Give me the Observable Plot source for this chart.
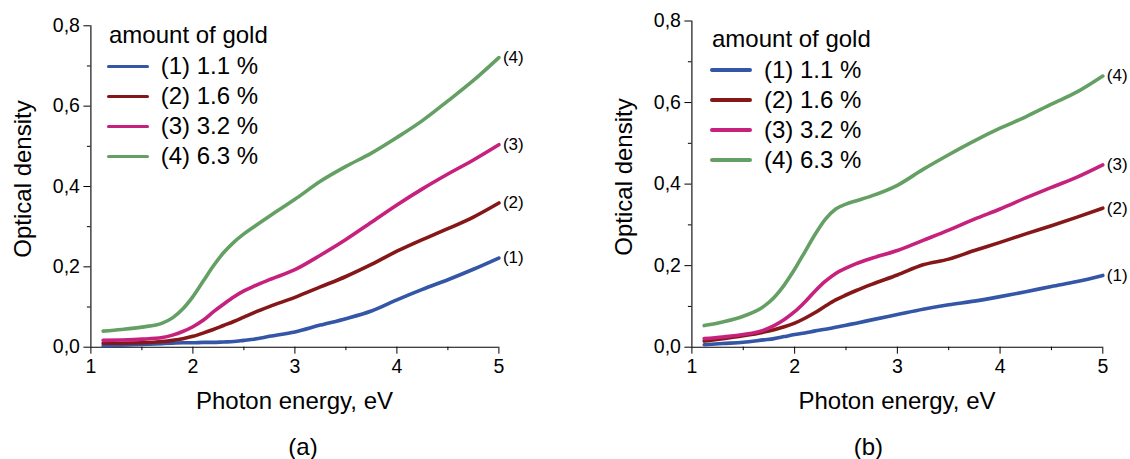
<!DOCTYPE html>
<html><head><meta charset="utf-8">
<script src="https://cdn.jsdelivr.net/npm/d3@7"></script>
<script src="https://cdn.jsdelivr.net/npm/@observablehq/plot@0.6"></script>
<style>
body{margin:0;background:#fff;font-family:"Liberation Sans",Arial,sans-serif;}
#root{position:relative;width:1130px;height:459px;overflow:hidden;background:#fff;}
.panel{position:absolute;top:0;}
.t{position:absolute;white-space:nowrap;color:#000;line-height:1;font-family:"Liberation Sans",Arial,sans-serif;}
.sw{position:absolute;height:3.5px;border-radius:2px;}
</style></head><body><div id="root"></div><script>
// ---------- data ----------
const seriesLabels = ["(1) 1.1 %", "(2) 1.6 %", "(3) 3.2 %", "(4) 6.3 %"];
const endLabels = ["(1)", "(2)", "(3)", "(4)"];
const colors = ["#3356a6", "#861719", "#c6217d", "#64a064"];
const legendTitle = "amount of gold";
const xTicks = [1, 2, 3, 4, 5];
const xMinor = [1.5, 2.5, 3.5, 4.5];
const yTicks = [0, 0.2, 0.4, 0.6, 0.8];
const yMinor = [0.1, 0.3, 0.5, 0.7];
const xTitle = "Photon energy, eV";
const yTitle = "Optical density";

// photon energy grid (eV)
const energy = [1.12, 1.3, 1.5, 1.7, 1.8, 1.9, 2.0, 2.1, 2.2, 2.3, 2.4, 2.5, 2.6, 2.75, 3.0, 3.25, 3.5, 3.75, 4.0, 4.25, 4.5, 4.75, 5.0];

// panel (a)
const a1 = [0.004,0.005,0.007,0.009,0.010,0.011,0.011,0.012,0.012,0.013,0.014,0.017,0.020,0.027,0.038,0.055,0.071,0.090,0.118,0.144,0.168,0.194,0.222];
const a2 = [0.010,0.010,0.011,0.014,0.017,0.021,0.027,0.035,0.044,0.054,0.064,0.075,0.086,0.101,0.124,0.150,0.176,0.206,0.239,0.268,0.295,0.324,0.359];
const a3 = [0.017,0.018,0.020,0.024,0.030,0.039,0.051,0.067,0.088,0.107,0.125,0.140,0.152,0.168,0.193,0.229,0.268,0.311,0.354,0.394,0.431,0.466,0.504];
const a4 = [0.040,0.044,0.050,0.060,0.073,0.095,0.126,0.164,0.202,0.235,0.261,0.282,0.300,0.326,0.368,0.413,0.450,0.483,0.522,0.564,0.613,0.664,0.721];

// panel (b)
const b1 = [0.006,0.009,0.012,0.018,0.021,0.026,0.031,0.035,0.040,0.044,0.049,0.054,0.059,0.067,0.080,0.093,0.104,0.113,0.124,0.136,0.149,0.161,0.176];
const b2 = [0.015,0.021,0.028,0.037,0.043,0.050,0.059,0.071,0.085,0.101,0.116,0.128,0.139,0.154,0.177,0.202,0.216,0.237,0.257,0.278,0.298,0.319,0.341];
const b3 = [0.021,0.025,0.031,0.042,0.053,0.068,0.087,0.111,0.138,0.162,0.181,0.194,0.205,0.218,0.237,0.262,0.287,0.314,0.339,0.366,0.392,0.417,0.447];
const b4 = [0.053,0.062,0.076,0.100,0.122,0.153,0.191,0.234,0.277,0.314,0.339,0.351,0.359,0.371,0.397,0.436,0.472,0.506,0.537,0.565,0.596,0.626,0.665];

const captions = ["(a)", "(b)"];

// ---------- drawing ----------
const root = document.getElementById("root");
const FONT = "Liberation Sans, Arial, sans-serif";

function panel(series, g) {
  const marks = [
    Plot.axisX({ticks: xMinor, tickSize: 3.5, tickFormat: () => "", label: null}),
    Plot.axisY({ticks: yMinor, tickSize: 3.5, tickFormat: () => "", label: null}),
    Plot.axisX({ticks: xTicks, tickSize: 7, tickPadding: 5, fontSize: 19.5, label: null, tickFormat: d => String(d)}),
    Plot.axisY({ticks: yTicks, tickSize: 7, tickPadding: 4, fontSize: 19.5, label: null, tickFormat: d => d.toFixed(1).replace(".", ",")}),
    Plot.ruleX([1], {stroke: "black", strokeWidth: 1.1}),
    Plot.ruleY([0], {stroke: "black", strokeWidth: 1.1})
  ];
  series.forEach((s, i) => {
    marks.push(Plot.line(energy.map((e, j) => [e, s[j]]), {stroke: colors[i], strokeWidth: 3.6, curve: "monotone-x"}));
  });
  const ends = series.map((s, i) => ({E: energy[energy.length - 1], OD: s[s.length - 1], label: endLabels[i]}));
  marks.push(Plot.text(ends, {x: "E", y: "OD", text: "label", textAnchor: "start", dx: 4, fontSize: 17, fill: "black"}));
  const svg = Plot.plot({
    width: 565, height: 459,
    marginLeft: g.ml, marginRight: g.mr, marginTop: g.mt, marginBottom: 112.3,
    x: {domain: [1, 5]},
    y: {domain: [0, 0.8]},
    style: {fontFamily: FONT, background: "transparent", color: "black", overflow: "visible"},
    marks
  });
  svg.classList.add("panel");
  svg.style.left = g.left + "px";
  root.appendChild(svg);
}

function text(str, x, y, size, anchor) {
  const d = document.createElement("div");
  d.className = "t";
  d.textContent = str;
  d.style.left = x + "px";
  d.style.top = y + "px";
  d.style.fontSize = size + "px";
  const tx = anchor === "start" ? "0" : "-50%";
  d.style.transform = `translate(${tx},-50%)`;
  root.appendChild(d);
  return d;
}

function rotText(str, cx, cy, size) {
  const d = document.createElement("div");
  d.className = "t";
  d.textContent = str;
  d.style.fontSize = size + "px";
  d.style.left = cx + "px";
  d.style.top = cy + "px";
  d.style.transform = "translate(-50%,-50%) rotate(-90deg)";
  root.appendChild(d);
}

function legend(g) {
  text(legendTitle, g.titleX, g.titleY, 24, "start");
  seriesLabels.forEach((lab, i) => {
    const y = g.rowY + i * 30;
    const s = document.createElement("div");
    s.className = "sw";
    s.style.left = g.lineX0 + "px";
    s.style.width = (g.lineX1 - g.lineX0) + "px";
    s.style.top = (y - 1.75) + "px";
    s.style.background = colors[i];
    root.appendChild(s);
    text(lab, g.textX, y, 24, "start");
  });
}

const geoA = {left: 0, ml: 90.4, mr: 66.6, mt: 25.3};
const geoB = {left: 565, ml: 126.4, mr: 27.7, mt: 20.5};
panel([a1, a2, a3, a4], geoA);
panel([b1, b2, b3, b4], geoB);

legend({titleX: 109, titleY: 35, lineX0: 107.3, lineX1: 148.7, textX: 160.7, rowY: 66.3});
legend({titleX: 712, titleY: 39, lineX0: 710, lineX1: 751.6, textX: 764, rowY: 70});

text(xTitle, 294.5, 400.5, 24, "middle");
text(xTitle, 897, 400.5, 24, "middle");
rotText(yTitle, 23, 178.5, 24);
rotText(yTitle, 623.6, 176.7, 24);
text(captions[0], 303, 447, 24, "middle");
text(captions[1], 868.4, 446.7, 24, "middle");
</script></body></html>
